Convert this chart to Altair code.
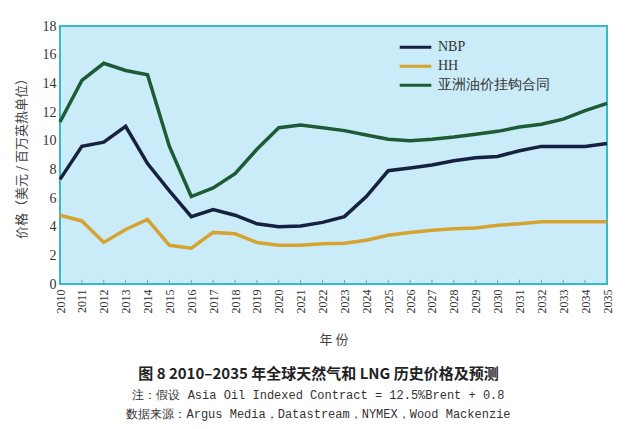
import altair as alt
import pandas as pd

years = list(range(2010, 2036))
nbp = [7.3, 9.6, 9.9, 11.0, 8.4, 6.5, 4.7, 5.2, 4.8, 4.2, 4.0, 4.05, 4.3, 4.7, 6.1, 7.9,
       8.1, 8.3, 8.6, 8.8, 8.9, 9.3, 9.6, 9.6, 9.6, 9.8]
hh = [4.8, 4.4, 2.9, 3.8, 4.5, 2.7, 2.5, 3.6, 3.5, 2.9, 2.7, 2.7, 2.8, 2.85, 3.05, 3.4,
      3.6, 3.75, 3.85, 3.9, 4.1, 4.2, 4.35, 4.35, 4.35, 4.35]
asia = [11.3, 14.2, 15.4, 14.9, 14.6, 9.6, 6.1, 6.7, 7.7, 9.4, 10.9, 11.1, 10.9, 10.7, 10.4, 10.1,
        10.0, 10.1, 10.25, 10.45, 10.65, 10.95, 11.15, 11.5, 12.1, 12.6]
y_ticks = list(range(0, 19, 2))
series_names = ["NBP", "HH", "亚洲油价挂钩合同"]
series_colors = ["#16213f", "#d6a230", "#1e5a36"]
tick_len = 0.3  # inward tick length in price units

rows = []
for name, vals in zip(series_names, [nbp, hh, asia]):
    for y, v in zip(years, vals):
        rows.append({"年份": y, "价格": v, "系列": name})
df = pd.DataFrame(rows)
ticks_df = pd.DataFrame({"年份": years, "价格": [0] * len(years), "y1": [tick_len] * len(years)})

xscale = alt.Scale(domain=[2010, 2035], nice=False)
yscale = alt.Scale(domain=[0, 18], nice=False)

xaxis = alt.Axis(title="年 份", values=years, format="d", labelAngle=270,
                 labelAlign="right", labelBaseline="middle", labelPadding=5,
                 labelOverlap=False, labelBound=False, labelFlush=False,
                 labelFont="Liberation Serif", labelFontSize=12, labelColor="#333",
                 ticks=False, domain=False, grid=False,
                 titleFont="Noto Sans CJK SC", titleFontSize=13, titleFontWeight="normal",
                 titleColor="#444", titlePadding=20)
yaxis = alt.Axis(title="价格（美元 / 百万英热单位）", values=y_ticks,
                 labelOverlap=False, labelBound=False, labelFlush=False,
                 labelFont="Liberation Serif", labelFontSize=14, labelColor="#333",
                 ticks=False, domain=False, grid=False, labelPadding=4,
                 titleFont="Noto Sans CJK SC", titleFontSize=13, titleFontWeight="normal",
                 titleColor="#444", titlePadding=14)

lines = alt.Chart(df).mark_line(strokeWidth=3.5).encode(
    x=alt.X("年份:Q", scale=xscale, axis=xaxis),
    y=alt.Y("价格:Q", scale=yscale, axis=yaxis),
    color=alt.Color("系列:N", scale=alt.Scale(domain=series_names, range=series_colors),
                    sort=series_names,
                    legend=alt.Legend(title=None, orient="none", legendX=338, legendY=12,
                                      symbolType="stroke", symbolStrokeWidth=3, symbolSize=1000,
                                      clipHeight=18.5, rowPadding=0,
                                      labelFont="Liberation Serif", labelFontSize=14,
                                      labelColor="#333", labelOffset=5)),
)

ticks = alt.Chart(ticks_df).mark_rule(strokeWidth=1, color="#3ab8c8").encode(
    x=alt.X("年份:Q", scale=xscale, axis=xaxis),
    y=alt.Y("价格:Q", scale=yscale, axis=yaxis),
    y2="y1:Q",
)

chart = alt.layer(lines, ticks).properties(
    width=547, height=258,
    autosize=alt.AutoSizeParams(type="none"),
    padding={"left": 52, "top": 18, "right": 25, "bottom": 137},
    background="white",
    title=alt.TitleParams(
        text="图 8   2010–2035 年全球天然气和 LNG 历史价格及预测",
        orient="bottom", anchor="middle", dx=-15, offset=21,
        font="Noto Sans CJK SC", fontSize=15, fontWeight="bold", color="#222",
        subtitle=["注：假设 Asia Oil Indexed Contract = 12.5%Brent + 0.8",
                  "数据来源：Argus Media，Datastream，NYMEX，Wood Mackenzie"],
        subtitleFont="Liberation Mono", subtitleFontSize=12, subtitleColor="#333",
        subtitlePadding=8, subtitleLineHeight=19,
    ),
).configure_view(
    fill="#c9ecf8", stroke="#3ab8c8", strokeWidth=2
)

chart.save("out.html", embed_options={"renderer": "svg", "actions": False})
